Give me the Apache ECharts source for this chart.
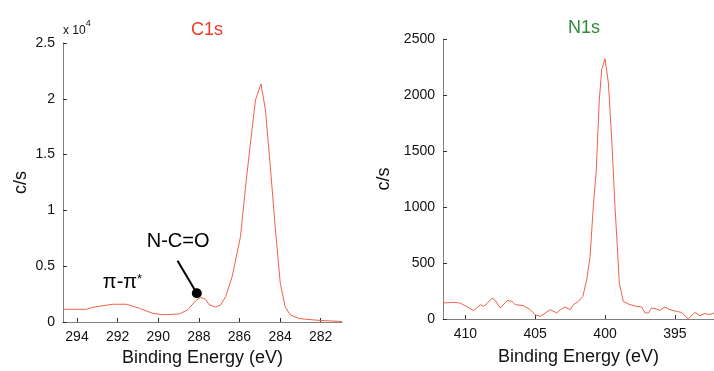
<!DOCTYPE html>
<html>
<head>
<meta charset="utf-8">
<script src="https://cdn.jsdelivr.net/npm/echarts@6/dist/echarts.min.js"></script>
<style>
  html, body { margin: 0; padding: 0; background: #fff; }
  #chart { width: 714px; height: 371px; }
</style>
</head>
<body>
<div id="chart"></div>
<script>
// C1s spectrum: binding energy (eV) and intensity (c/s)
const c1sEnergy = [294.69, 293.54, 293.22, 292.24, 291.58, 290.93, 290.28, 289.79, 288.97, 288.56,
  288.15, 287.91, 287.66, 287.50, 287.18, 286.93, 286.68, 286.36, 285.95, 285.70, 285.46, 285.21,
  284.94, 284.72, 284.48, 284.24, 283.99, 283.75, 283.50, 283.09, 282.69, 282.11, 281.13, 280.95];
const c1sCounts = [1140, 1140, 1320, 1590, 1590, 1230, 780, 655, 715, 1075,
  1910, 2210, 2030, 1550, 1340, 1520, 2270, 4060, 7640, 12120, 16010, 19890,
  21330, 19000, 13920, 8540, 3470, 1370, 630, 330, 240, 150, 60, 55];

// N1s spectrum
const n1sEnergy = [411.6, 410.83, 410.4, 410.0, 409.4, 408.93, 408.69, 408.41, 408.09, 407.86,
  407.5, 406.98, 406.67, 406.43, 405.83, 405.36, 405.0, 404.64, 403.93, 403.45, 403.21, 402.86,
  402.5, 402.26, 401.91, 401.59, 401.31, 401.07, 400.84, 400.64, 400.41, 400.24, 400.0, 399.76,
  399.52, 399.29, 399.12, 398.98, 398.69, 398.21, 397.74, 397.38, 397.14, 396.9, 396.67, 396.31,
  396.07, 395.71, 395.36, 394.88, 394.52, 394.05, 393.57, 393.21, 392.86, 392.5, 392.2];
const n1sCounts = [143, 149, 143, 119, 74, 128, 113, 143, 187, 166,
  98, 166, 157, 128, 119, 83, 38, 23, 83, 54, 83, 107,
  83, 128, 157, 202, 351, 559, 1006, 1301, 1958, 2226, 2324, 2107,
  1601, 1006, 648, 321, 157, 128, 113, 107, 54, 54, 98, 89,
  77, 107, 83, 68, 59, 0, 59, 30, 48, 39, 54];

// Tick positions
const c1sTicks = [294, 292, 290, 288, 286, 284, 282];
const n1sTicks = [410, 405, 400, 395];

// Peak annotations on the C1s panel
const pointerStart = [289.05, 5490];
const pointerEnd = [288.1, 2570];
const labelNCO = [289.02, 7200];
const labelPi = [291.76, 3500];

const lineColor = '#f2604a';
const axisColor = '#808080';
const fontFamily = 'Liberation Sans, Arial, sans-serif';

const pairs = (xs, ys) => xs.map((x, i) => [x, ys[i]]);

function xAxisFor(gridIndex, min, max, ticks, gap) {
  return {
    gridIndex, type: 'value', inverse: true, min, max,
    name: 'Binding Energy (eV)', nameLocation: 'middle', nameGap: gap,
    nameTextStyle: { fontSize: 18, color: '#111', fontFamily },
    axisLine: { show: true, onZero: false, lineStyle: { color: axisColor, width: 1 } },
    axisTick: { show: true, inside: true, length: 4, customValues: ticks, lineStyle: { color: '#333' } },
    axisLabel: { customValues: ticks, fontSize: 14, color: '#111', fontFamily, margin: 8 },
    splitLine: { show: false }
  };
}

function yAxisFor(gridIndex, max, interval, gap, formatter) {
  return {
    gridIndex, type: 'value', min: 0, max, interval,
    name: 'c/s', nameLocation: 'middle', nameGap: gap, nameRotate: 90,
    nameTextStyle: { fontSize: 18, color: '#111', fontFamily },
    axisLine: { show: true, lineStyle: { color: axisColor, width: 1 } },
    axisTick: { show: true, inside: true, length: 4, lineStyle: { color: '#333' } },
    axisLabel: { fontSize: 14, color: '#111', fontFamily, margin: 8, formatter },
    splitLine: { show: false }
  };
}

const chart = echarts.init(document.getElementById('chart'));
chart.setOption({
  animation: false,
  backgroundColor: '#fff',
  title: [
    { text: 'C1s', left: 202, top: 16, textAlign: 'center',
      textStyle: { color: '#ee3a26', fontSize: 18, fontWeight: 'normal', fontFamily } },
    { text: 'N1s', left: 579, top: 14, textAlign: 'center',
      textStyle: { color: '#2f8a3a', fontSize: 18, fontWeight: 'normal', fontFamily } }
  ],
  graphic: [{
    type: 'text', left: 63, top: 19,
    style: {
      text: '{a|x 10}{s|4}', fill: '#111', fontFamily,
      rich: { a: { fontSize: 12, fontFamily, padding: [6, 0, 0, 0] }, s: { fontSize: 9, fontFamily, verticalAlign: 'top' } }
    }
  }],
  grid: [
    { left: 63, right: 372, top: 43, bottom: 49, outerBoundsMode: 'none', containLabel: false },
    { left: 443, right: 0, top: 39, bottom: 52, outerBoundsMode: 'none', containLabel: false }
  ],
  xAxis: [
    xAxisFor(0, 280.95, 294.69, c1sTicks, 27),
    xAxisFor(1, 392.2, 411.6, n1sTicks, 29)
  ],
  yAxis: [
    yAxisFor(0, 25000, 5000, 33, v => String(v / 10000)),
    yAxisFor(1, 2500, 500, 50, v => String(v))
  ],
  series: [
    {
      type: 'line', xAxisIndex: 0, yAxisIndex: 0, data: pairs(c1sEnergy, c1sCounts),
      symbol: 'none', lineStyle: { color: lineColor, width: 1 }, silent: true,
      markLine: {
        silent: true, symbol: ['none', 'none'],
        lineStyle: { color: '#000', width: 2, type: 'solid' },
        label: { show: false },
        data: [[{ coord: pointerStart }, { coord: pointerEnd }]]
      },
      markPoint: {
        silent: true, symbol: 'circle', symbolSize: 0,
        data: [
          { coord: pointerEnd, symbolSize: 10, itemStyle: { color: '#000' }, label: { show: false } },
          { coord: labelNCO, label: { show: true, formatter: 'N-C=O', fontSize: 20, color: '#000', fontFamily, position: 'inside' } },
          { coord: labelPi, label: { show: true, formatter: '{a|π-π}{s|*}', color: '#000', position: 'inside',
            rich: { a: { fontSize: 20, fontFamily }, s: { fontSize: 13, fontFamily, verticalAlign: 'top', padding: [0, 0, 8, 0] } } } }
        ]
      }
    },
    {
      type: 'line', xAxisIndex: 1, yAxisIndex: 1, data: pairs(n1sEnergy, n1sCounts),
      symbol: 'none', lineStyle: { color: lineColor, width: 1 }, silent: true
    }
  ]
});
</script>
</body>
</html>
